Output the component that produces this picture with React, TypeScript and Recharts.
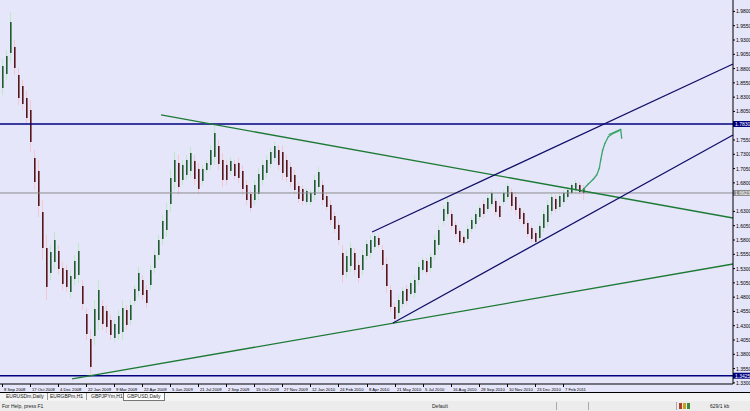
import React from 'react';
import { ComposedChart, Bar, XAxis, YAxis, ReferenceLine } from 'recharts';

// ---- daily OHLC (GBPUSD, Daily) ----
const highs = [
  1.8968, 1.9125, 1.979, 1.93, 1.881, 1.86, 1.8408, 1.825, 1.7375, 1.72,
  1.65, 1.5888, 1.5713, 1.594, 1.5713, 1.5415, 1.5363, 1.5275, 1.5538, 1.5748,
  1.51, 1.461, 1.4225, 1.475, 1.51, 1.475, 1.4663, 1.4488, 1.44, 1.4575,
  1.475, 1.4663, 1.475, 1.5013, 1.5328, 1.5188, 1.5013, 1.5363, 1.5625, 1.5888,
  1.6238, 1.6448, 1.7025, 1.734, 1.7288, 1.72, 1.7288, 1.7428, 1.7288, 1.7148,
  1.7113, 1.72, 1.7463, 1.7813, 1.755, 1.7323, 1.72, 1.7253, 1.72, 1.7235,
  1.7113, 1.685, 1.6675, 1.685, 1.706, 1.72, 1.7288, 1.741, 1.7515, 1.7463,
  1.7463, 1.7288, 1.7165, 1.7025, 1.6815, 1.6763, 1.671, 1.6675, 1.6938, 1.7078,
  1.685, 1.6623, 1.65, 1.629, 1.615, 1.5713, 1.5625, 1.5765, 1.566, 1.545,
  1.5625, 1.58, 1.5888, 1.5923, 1.5888, 1.5713, 1.5503, 1.5013, 1.4698, 1.4838,
  1.4978, 1.5013, 1.51, 1.5188, 1.5415, 1.5503, 1.5485, 1.5573, 1.5888, 1.6063,
  1.6413, 1.6535, 1.6325, 1.6115, 1.601, 1.5888, 1.6063, 1.6203, 1.6325, 1.6413,
  1.65, 1.6588, 1.6675, 1.6535, 1.6448, 1.6675, 1.6798, 1.671, 1.664, 1.6413,
  1.6325, 1.615, 1.6063, 1.5975, 1.6115, 1.6325, 1.65, 1.6623, 1.6588, 1.6623,
  1.6675, 1.6728, 1.6798, 1.685, 1.6815, 1.6763,
];
const lows = [
  1.8338, 1.86, 1.8898, 1.8688, 1.8163, 1.8075, 1.7813, 1.734, 1.6675, 1.6203,
  1.545, 1.475, 1.51, 1.5275, 1.5188, 1.4925, 1.489, 1.4785, 1.5013, 1.5048,
  1.4575, 1.405, 1.342, 1.3963, 1.4225, 1.4225, 1.4173, 1.405, 1.4015, 1.405,
  1.405, 1.4225, 1.4313, 1.4663, 1.4803, 1.475, 1.461, 1.4925, 1.5223, 1.545,
  1.5713, 1.5853, 1.629, 1.6675, 1.6588, 1.6763, 1.685, 1.6903, 1.6763, 1.6588,
  1.6763, 1.6973, 1.7025, 1.7113, 1.7025, 1.6728, 1.6763, 1.6938, 1.685, 1.6798,
  1.6588, 1.6413, 1.629, 1.6413, 1.65, 1.6763, 1.6885, 1.706, 1.7165, 1.7025,
  1.685, 1.6815, 1.6728, 1.6588, 1.6448, 1.6413, 1.6413, 1.6413, 1.65, 1.664,
  1.6413, 1.6325, 1.6063, 1.5923, 1.5713, 1.5048, 1.5135, 1.524, 1.5188, 1.5048,
  1.5188, 1.545, 1.5485, 1.5625, 1.566, 1.5275, 1.4873, 1.454, 1.4348, 1.4435,
  1.461, 1.4663, 1.4803, 1.4785, 1.5013, 1.5223, 1.5188, 1.524, 1.545, 1.5625,
  1.6063, 1.6185, 1.5975, 1.5853, 1.5713, 1.5713, 1.5748, 1.594, 1.601, 1.615,
  1.6185, 1.629, 1.6378, 1.6238, 1.615, 1.6413, 1.65, 1.6325, 1.6238, 1.6115,
  1.6028, 1.5853, 1.5765, 1.5713, 1.5765, 1.594, 1.6028, 1.6238, 1.6273, 1.6325,
  1.6413, 1.65, 1.6588, 1.6623, 1.6588, 1.65,
];
const opens = [
  1.846, 1.8705, 1.9073, 1.9178, 1.8688, 1.8495, 1.8285, 1.8075, 1.7235, 1.7008,
  1.629, 1.566, 1.5223, 1.5415, 1.5608, 1.531, 1.5275, 1.489, 1.5118, 1.5188,
  1.4995, 1.4505, 1.4068, 1.412, 1.44, 1.4645, 1.4558, 1.44, 1.4085, 1.4155,
  1.419, 1.4575, 1.44, 1.4733, 1.4908, 1.51, 1.4925, 1.5013, 1.531, 1.5538,
  1.5818, 1.5975, 1.643, 1.6815, 1.7148, 1.685, 1.6938, 1.7008, 1.7183, 1.7043,
  1.6833, 1.7025, 1.7113, 1.7253, 1.7445, 1.72, 1.7113, 1.7008, 1.713, 1.7148,
  1.7008, 1.6763, 1.6605, 1.65, 1.6605, 1.685, 1.6973, 1.713, 1.7235, 1.7375,
  1.734, 1.72, 1.7078, 1.6938, 1.6745, 1.6693, 1.6465, 1.6465, 1.6588, 1.6728,
  1.6763, 1.657, 1.6413, 1.622, 1.6063, 1.5573, 1.524, 1.5345, 1.5573, 1.5363,
  1.5275, 1.552, 1.5573, 1.5678, 1.5835, 1.5625, 1.538, 1.4925, 1.4628, 1.4523,
  1.468, 1.4943, 1.4855, 1.4873, 1.51, 1.5275, 1.5433, 1.531, 1.5538, 1.5713,
  1.6133, 1.6255, 1.6255, 1.6063, 1.5958, 1.5853, 1.5818, 1.5993, 1.608, 1.6203,
  1.643, 1.6343, 1.643, 1.6483, 1.6395, 1.6465, 1.6553, 1.664, 1.6553, 1.636,
  1.6273, 1.6098, 1.601, 1.5923, 1.5835, 1.601, 1.6115, 1.6308, 1.6518, 1.6378,
  1.6465, 1.6553, 1.6623, 1.6675, 1.6763, 1.671,
];
const closes = [
  1.8845, 1.902, 1.9615, 1.881, 1.8285, 1.818, 1.7935, 1.7515, 1.6815, 1.6395,
  1.566, 1.4978, 1.559, 1.58, 1.5293, 1.503, 1.4978, 1.517, 1.5433, 1.5608,
  1.468, 1.4155, 1.3578, 1.4593, 1.4925, 1.433, 1.4278, 1.4138, 1.433, 1.447,
  1.461, 1.4313, 1.4663, 1.4943, 1.5223, 1.4838, 1.4698, 1.5275, 1.5538, 1.58,
  1.6133, 1.6325, 1.6885, 1.72, 1.6728, 1.7113, 1.72, 1.7323, 1.6868, 1.6693,
  1.7043, 1.7148, 1.7375, 1.7673, 1.713, 1.685, 1.685, 1.7183, 1.692, 1.6885,
  1.6693, 1.65, 1.636, 1.6763, 1.6955, 1.7113, 1.72, 1.734, 1.7445, 1.7113,
  1.6973, 1.6903, 1.6815, 1.6675, 1.6518, 1.6483, 1.6658, 1.6623, 1.685, 1.699,
  1.65, 1.6378, 1.615, 1.5993, 1.58, 1.5188, 1.552, 1.566, 1.5275, 1.5135,
  1.5538, 1.573, 1.58, 1.587, 1.5713, 1.5363, 1.4995, 1.4628, 1.4418, 1.475,
  1.4908, 1.4733, 1.5048, 1.51, 1.5328, 1.545, 1.524, 1.5503, 1.58, 1.5975,
  1.6343, 1.6465, 1.6045, 1.5905, 1.5765, 1.5748, 1.5993, 1.615, 1.6255, 1.636,
  1.6255, 1.6535, 1.6623, 1.629, 1.6203, 1.6623, 1.6745, 1.6395, 1.6325, 1.6168,
  1.608, 1.5905, 1.5818, 1.5765, 1.6045, 1.6255, 1.6413, 1.6553, 1.6343, 1.657,
  1.6623, 1.6675, 1.6763, 1.6798, 1.664, 1.6623,
];

// bar slots incl. the empty "chart shift" space on the right
const SLOTS = 183;
const LABEL_STEP = 7;
const dateLabels = [
  '8 Sep 2008', '17 Oct 2008', '4 Dec 2008', '22 Jan 2009', '9 Mar 2009', '22 Apr 2009',
  '5 Jun 2009', '21 Jul 2009', '2 Sep 2009', '15 Oct 2009', '27 Nov 2009', '12 Jan 2010',
  '24 Feb 2010', '8 Apr 2010', '21 May 2010', '5 Jul 2010', '16 Aug 2010', '28 Sep 2010',
  '10 Nov 2010', '23 Dec 2010', '7 Feb 2011',
];
const priceTicks = [
  1.98, 1.955, 1.93, 1.905, 1.88, 1.855, 1.83, 1.805, 1.78, 1.755, 1.73, 1.705, 1.68, 1.655,
  1.63, 1.605, 1.58, 1.555, 1.53, 1.505, 1.48, 1.455, 1.43, 1.405, 1.38, 1.355, 1.33,
];

// horizontal levels: resistance, bid line, support
const levels = [
  { price: 1.783, color: '#000080', width: 1.5, tag: '#000080' },
  { price: 1.6623, color: '#8c8c8c', width: 1, tag: '#8c8c8c' },
  { price: 1.3425, color: '#000080', width: 1.5, tag: '#000080' },
];

// trend lines as [barIndex, price] pairs
const trendLines = [
  { a: [39.7, 1.7988], b: [182.5, 1.6185], color: '#1d7a35' },
  { a: [17.5, 1.3368], b: [182.5, 1.538], color: '#1d7a35' },
  { a: [92.4, 1.594], b: [182.5, 1.888], color: '#10106a' },
  { a: [97.6, 1.4348], b: [182.5, 1.7638], color: '#10106a' },
];

// hand-drawn projection arrow (polyline + head)
const arrowIdx = [144.97, 146.37, 147.62, 148.47, 149.12, 149.47, 149.97, 150.54, 151.37, 152.62, 154.12];
const arrowPrice = [1.6675, 1.678, 1.6863, 1.6938, 1.7055, 1.72, 1.7375, 1.7492, 1.7608, 1.7667, 1.7713];
const headIdx = [151.54, 154.46, 154.71];
const headPrice = [1.7646, 1.7737, 1.758];

const BG = '#e6e6fa';
const FONT = '"Liberation Sans", Arial, sans-serif';
const ARROW = '#3aa569';

const rows = Array.from({ length: SLOTS }, (_, i) => ({
  idx: i,
  open: opens[i],
  high: highs[i],
  low: lows[i],
  close: closes[i],
}));

const pairs = (xs: number[], ys: number[]) =>
  xs.slice(1).map((x, k) => [
    { x: xs[k], y: ys[k] },
    { x, y: ys[k + 1] },
  ]);
const arrowSegments = [...pairs(arrowIdx, arrowPrice), ...pairs(headIdx, headPrice)];

function Candle(props: any) {
  const { x, y, width, height, payload } = props;
  if (!payload || payload.high == null) return null;
  const { open, high, low, close } = payload;
  const top = Math.min(y, y + height);
  const h = Math.abs(height);
  const span = high - low || 1;
  const yOf = (v: number) => top + ((high - v) / span) * h;
  const px = Math.round(x + width / 2);
  const bull = close >= open;
  const bTop = yOf(Math.max(open, close));
  const bBot = yOf(Math.min(open, close));
  return (
    <g>
      <line x1={px + 0.5} x2={px + 0.5} y1={top} y2={top + h} stroke={bull ? '#bfe8c4' : '#f2c9d0'} strokeWidth={1} />
      <rect x={px} y={bTop} width={1.6} height={Math.max(1, bBot - bTop)} fill={bull ? '#1f5c2b' : '#5a1518'} />
    </g>
  );
}

function DateTick(props: any) {
  const { x, y, payload } = props;
  const i = payload.value;
  if (i % LABEL_STEP !== 0 || !dateLabels[i / LABEL_STEP]) return null;
  const tx = Math.round(x) + 0.5;
  return (
    <g>
      <line x1={tx} x2={tx} y1={y} y2={y + 3} stroke="#000" strokeWidth={1} />
      <text x={tx + 1.5} y={y + 6.5} fontSize={4.2} fontFamily={FONT} fill="#000">
        {dateLabels[i / LABEL_STEP]}
      </text>
    </g>
  );
}

function PriceTick(props: any) {
  const { x, y, payload } = props;
  const v = payload.value as number;
  if (levels.some((l) => Math.abs(l.price - v) < 0.008 && l.price > 1.4)) return null;
  return (
    <g>
      <line x1={x} x2={x + 2} y1={y} y2={y} stroke="#000" strokeWidth={1} />
      <text x={x + 3} y={y + 2} fontSize={5} fontFamily={FONT} fill="#000">
        {v.toFixed(4)}
      </text>
    </g>
  );
}

function levelTag(price: number, fill: string) {
  return (p: any) => {
    const vb = p.viewBox || {};
    const x0 = (vb.x ?? 0) + (vb.width ?? 0);
    const y0 = vb.y ?? 0;
    return (
      <g>
        <rect x={x0} y={y0 - 3} width={17} height={6} fill={fill} />
        <text x={x0 + 2} y={y0 + 2} fontSize={5} fontFamily={FONT} fill="#fff">
          {price.toFixed(4)}
        </text>
      </g>
    );
  };
}

const tabs = [
  { name: 'EURUSDm,Daily', left: 3, active: false },
  { name: 'EURGBPm,H1', left: 47, active: false },
  { name: 'GBPJPYm,H1', left: 88, active: false },
  { name: 'GBPUSD,Daily', left: 123, active: true },
];

export default function App() {
  return (
    <div
      style={{
        position: 'absolute',
        left: 0,
        top: 0,
        width: 750,
        height: 411,
        overflow: 'hidden',
        background: '#fff',
        fontFamily: FONT,
      }}
    >
      <div style={{ position: 'absolute', left: 0, top: 0, width: 750, height: 392, background: BG }}>
        <ComposedChart width={750} height={392} data={rows} margin={{ top: 0, right: 0, bottom: 0, left: 0 }}>
          <XAxis
            dataKey="idx"
            type="category"
            interval={0}
            height={8}
            tickLine={false}
            tickSize={0}
            tickMargin={0}
            axisLine={{ stroke: '#000', strokeWidth: 1 }}
            tick={(p: any) => <DateTick {...p} />}
          />
          <XAxis
            xAxisId="pos"
            dataKey="idx"
            type="number"
            domain={[-0.5, SLOTS - 0.5]}
            allowDataOverflow
            hide
          />
          <YAxis
            orientation="right"
            width={17}
            type="number"
            domain={[1.328, 2.0]}
            allowDataOverflow
            ticks={priceTicks}
            interval={0}
            tickLine={false}
            tickSize={0}
            tickMargin={0}
            axisLine={{ stroke: '#000', strokeWidth: 1 }}
            tick={(p: any) => <PriceTick {...p} />}
          />

          {levels.map((l) => (
            <ReferenceLine
              key={l.price}
              y={l.price}
              stroke={l.color}
              strokeWidth={l.width}
              label={levelTag(l.price, l.tag)}
            />
          ))}

          {trendLines.map((t, k) => (
            <ReferenceLine
              key={k}
              xAxisId="pos"
              segment={[
                { x: t.a[0], y: t.a[1] },
                { x: t.b[0], y: t.b[1] },
              ]}
              stroke={t.color}
              strokeWidth={1.3}
            />
          ))}

          <Bar
            dataKey={(d: any) => (d.high == null ? null : [d.low, d.high])}
            shape={(p: any) => <Candle {...p} />}
            isAnimationActive={false}
          />

          {arrowSegments.map((s, k) => (
            <ReferenceLine
              key={'a' + k}
              xAxisId="pos"
              segment={s}
              stroke={ARROW}
              strokeWidth={1.3}
              strokeLinecap="round"
            />
          ))}
        </ComposedChart>
      </div>

      {/* terminal tabs */}
      <div
        style={{
          position: 'absolute',
          left: 0,
          top: 392,
          width: 750,
          height: 9,
          background: '#f4f4f4',
          borderTop: '1px solid #000',
          boxSizing: 'border-box',
        }}
      >
        {tabs.map((t) => (
          <div
            key={t.name}
            style={{
              position: 'absolute',
              left: t.left,
              top: 0,
              height: 7,
              padding: '0 3px',
              fontSize: 5,
              lineHeight: '7px',
              color: '#222',
              background: t.active ? '#fff' : 'transparent',
              border: t.active ? '1px solid #777' : 'none',
              borderTop: 'none',
              borderRight: t.active ? '1px solid #777' : '1px solid #999',
            }}
          >
            {t.name}
          </div>
        ))}
      </div>

      {/* status bar */}
      <div
        style={{
          position: 'absolute',
          left: 0,
          top: 401,
          width: 750,
          height: 10,
          background: '#ececec',
          fontSize: 5,
          lineHeight: '10px',
          color: '#222',
        }}
      >
        <span style={{ position: 'absolute', left: 2 }}>For Help, press F1</span>
        <span style={{ position: 'absolute', left: 432 }}>Default</span>
        <span style={{ position: 'absolute', left: 556, top: 1, width: 1, height: 8, background: '#aaa' }} />
        <span style={{ position: 'absolute', left: 588, top: 1, width: 1, height: 8, background: '#aaa' }} />
        <span style={{ position: 'absolute', left: 676, top: 1, width: 1, height: 8, background: '#aaa' }} />
        <span style={{ position: 'absolute', left: 679, top: 2, width: 3, height: 6, background: '#b0402a' }} />
        <span style={{ position: 'absolute', left: 683, top: 2, width: 3, height: 6, background: '#c8a020' }} />
        <span style={{ position: 'absolute', left: 687, top: 2, width: 3, height: 6, background: '#3c8c3c' }} />
        <span style={{ position: 'absolute', left: 710 }}>629/1 kb</span>
      </div>
    </div>
  );
}
